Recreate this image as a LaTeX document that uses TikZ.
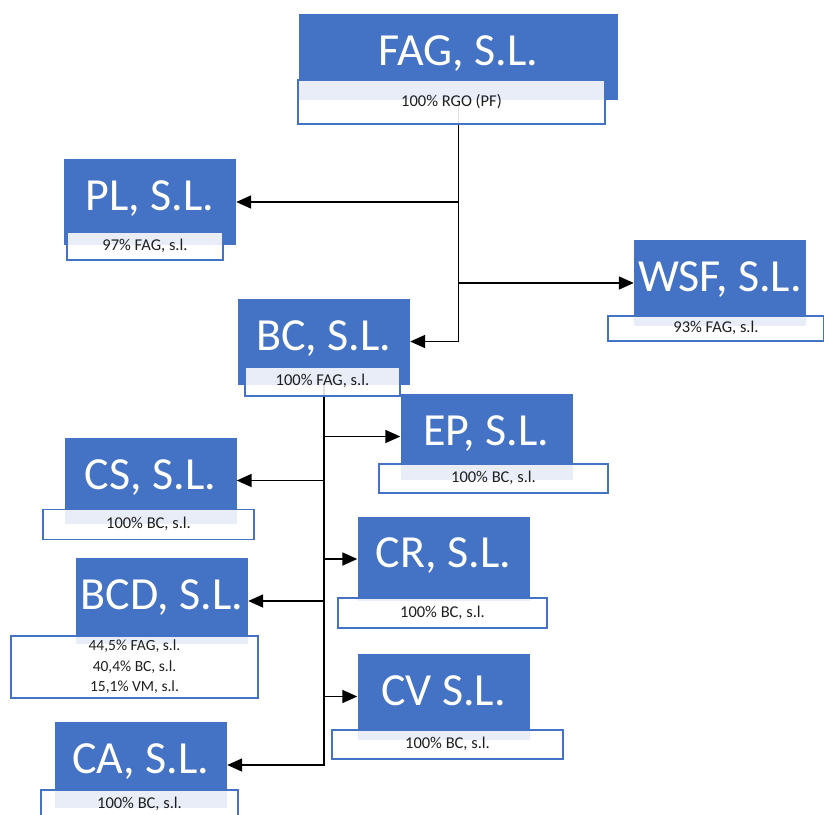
\documentclass[tikz,border=0pt]{standalone}
\usepackage{fontspec}
\setmainfont{Carlito}
\usetikzlibrary{positioning,arrows.meta,calc}
\definecolor{cblue}{HTML}{4472C4}
\definecolor{ink}{HTML}{1F1F1F}

\tikzset{
    cobox/.style={fill=cblue, text=white, inner sep=0pt, minimum width=172pt, minimum height=86pt,
        font=\fontsize{46}{55}\selectfont, text height=29.5pt, text depth=12pt},
    share/.style={draw=cblue, line width=1.4pt, fill=white, fill opacity=0.88, text opacity=1,
        text=ink, inner sep=0pt, minimum height=29pt, font=\fontsize{16.5}{20}\selectfont,
        text height=11.5pt, text depth=3pt},
    sharemulti/.style={draw=cblue, line width=1.4pt, fill=white, fill opacity=0.88, text opacity=1,
        text=ink, inner sep=0pt, align=center, font=\fontsize{15.5}{20.5}\selectfont},
    conn/.style={line width=1.8pt, -{Triangle[length=15pt,width=13pt]}}
}

\begin{document}
\begin{tikzpicture}[x=1pt, y=-1pt]
    \useasboundingbox (0,0) rectangle (824,814);
    \clip (0,0) rectangle (824,814);

    % Companies
    \node[cobox, minimum width=319pt] (fag) at (458.5,57) {FAG, S.L.};
    \node[cobox] (pl)  at (150,202)   {PL, S.L.};
    \node[cobox] (wsf) at (720,283)   {WSF, S.L.};
    \node[cobox] (bc)  at (324,341.5) {BC, S.L.};
    \node[cobox] (ep)  at (486.5,436.5) {EP, S.L.};
    \node[cobox] (cs)  at (150.5,480.5) {CS, S.L.};
    \node[cobox, minimum height=84pt] (cr) at (443.5,559) {CR, S.L.};
    \node[cobox] (bcd) at (162,601)   {BCD, S.L.};
    \node[cobox] (cv)  at (443.5,696.5) {CV S.L.};
    \node[cobox] (ca)  at (141,765)   {CA, S.L.};

    % Connectors
    \draw[conn] (fag.south) |- (bc.east);
    \draw[conn] (pl.east -| fag.south) -- (pl.east);
    \draw[conn] (wsf.west -| fag.south) -- (wsf.west);
    \draw[conn] (bc.south) |- (ca.east);
    \foreach \co/\side in {ep/west, cs/east, cr/west, bcd/east, cv/west} {
        \draw[conn] (\co.\side -| bc.south) -- (\co.\side);
    }

    % Shareholdings
    \node[share, minimum width=307pt, minimum height=44pt] (fagl) at (451.5,102) {100\% RGO (PF)};
    \node[share, minimum width=156pt, minimum height=28pt] (pll) at (145,246) {97\% FAG, s.l.};
    \node[share, minimum width=216pt, minimum height=25pt] (wsfl) at (716,328.5) {93\% FAG, s.l.};
    \node[share, minimum width=155pt] (bcl) at (322.5,381.5) {100\% FAG, s.l.};
    \node[share, minimum width=229pt] (epl) at (493.5,478.5) {100\% BC, s.l.};
    \node[share, minimum width=211pt, minimum height=30pt] (csl) at (148.5,524.5) {100\% BC, s.l.};
    \node[share, minimum width=209pt, minimum height=30pt] (crl) at (442.5,613) {100\% BC, s.l.};
    \node[sharemulti, minimum width=247pt, minimum height=62pt] (bcdl) at (134.5,667)
        {44,5\% FAG, s.l.\\40,4\% BC, s.l.\\15,1\% VM, s.l.};
    \node[share, minimum width=231pt] (cvl) at (447.5,744.5) {100\% BC, s.l.};
    \node[share, minimum width=197pt] (cal) at (139.5,804.5) {100\% BC, s.l.};
\end{tikzpicture}
\end{document}
